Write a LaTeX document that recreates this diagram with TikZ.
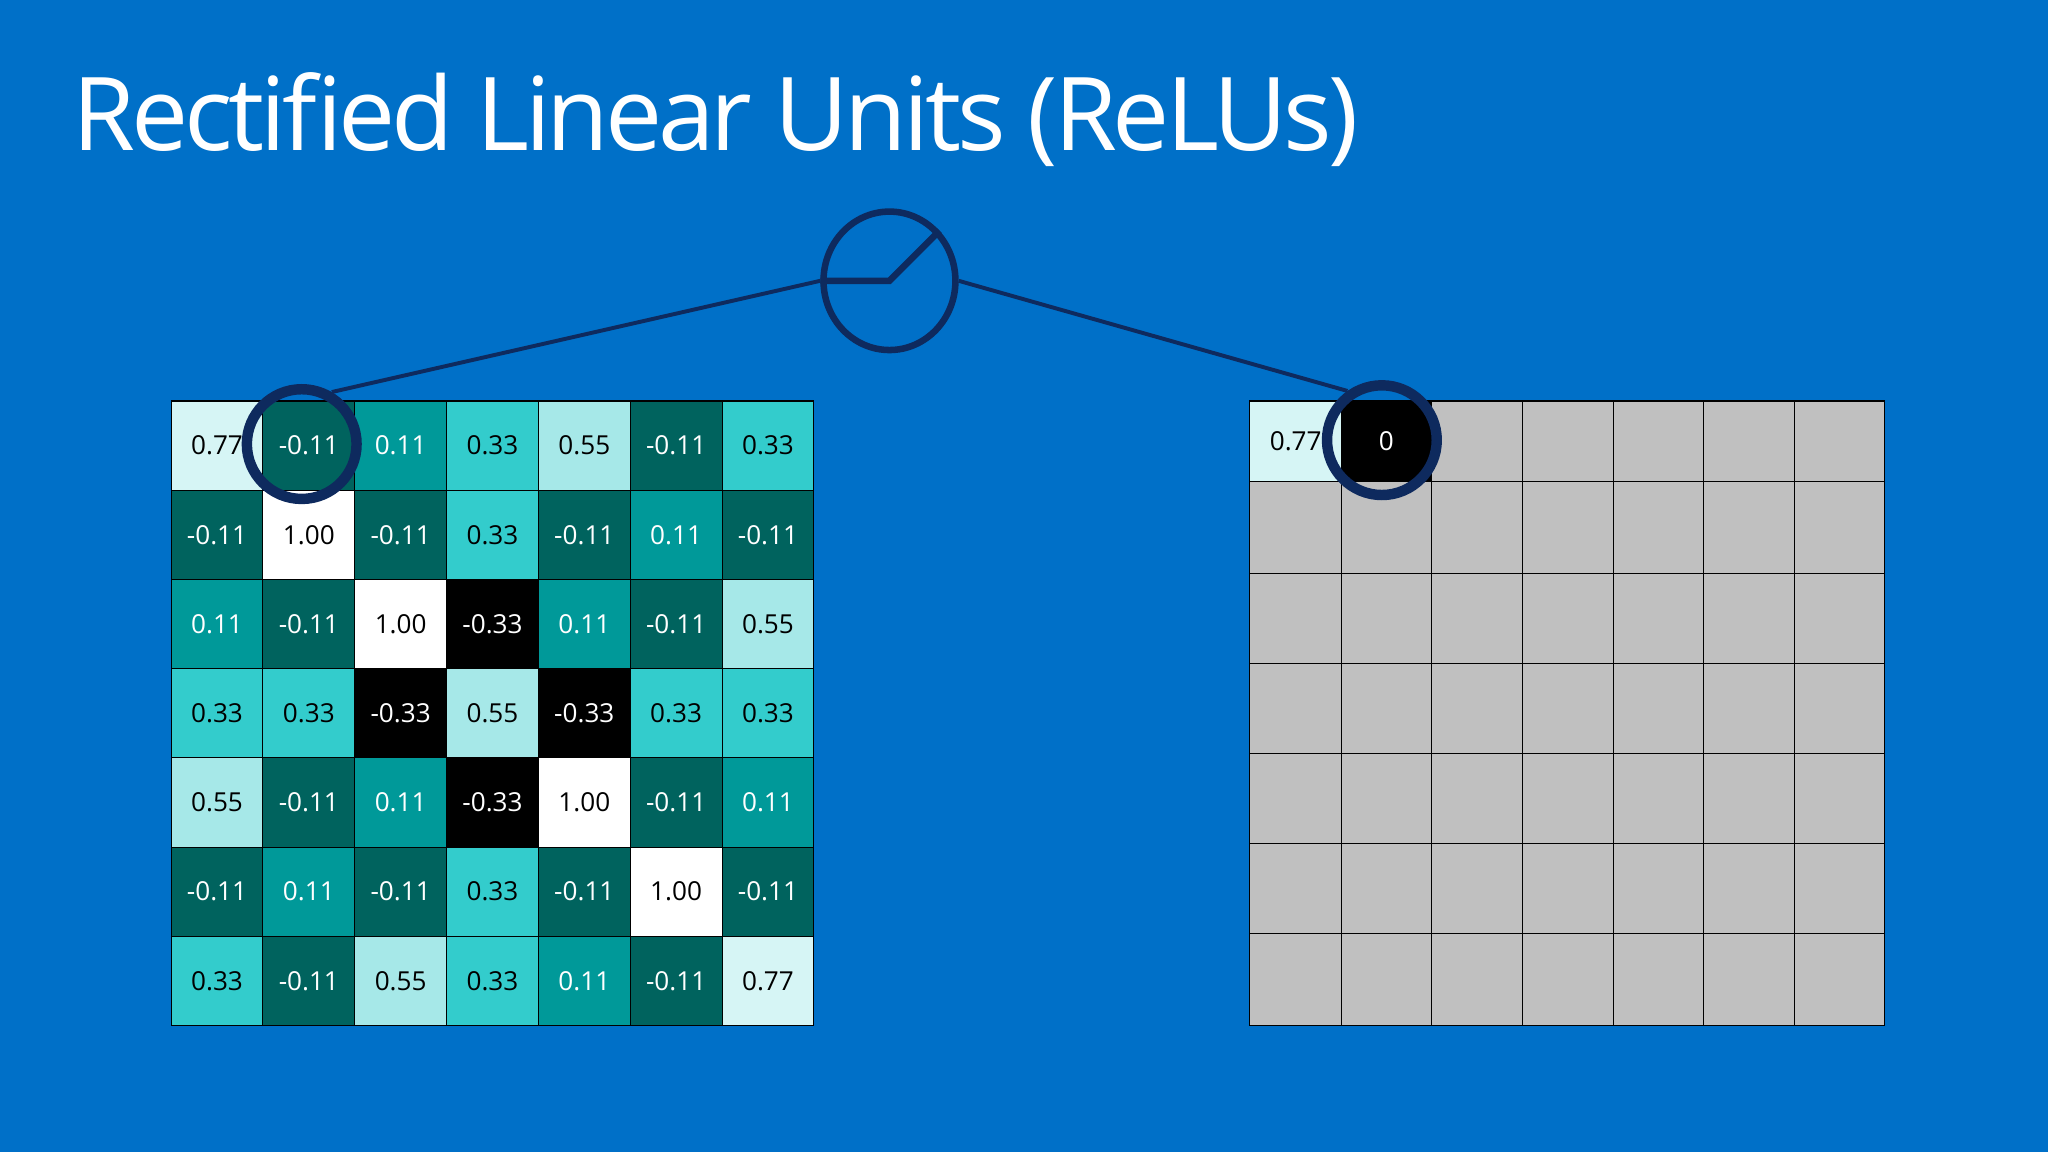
\documentclass[tikz,border=0pt]{standalone}
\usepackage{fontspec}
\usetikzlibrary{shapes.geometric}
\setmainfont{Open Sans}
\begin{document}
\definecolor{bg}{HTML}{0070C8}
\definecolor{navy}{HTML}{0E2A5E}
\definecolor{vneg}{HTML}{000000}
\definecolor{cneg}{HTML}{00635E}
\definecolor{cone}{HTML}{009999}
\definecolor{cthree}{HTML}{33CCCC}
\definecolor{cfive}{HTML}{A6E8E8}
\definecolor{cseven}{HTML}{D6F5F5}
\definecolor{gr}{HTML}{C0C0C0}
\begin{tikzpicture}[x=1pt,y=-1pt,
  cell/.style={draw=black,line width=0.8pt,minimum width=70.3pt,minimum height=68.3pt,inner sep=0pt,font=\fontsize{20}{24}\selectfont},
  rcell/.style={draw=black,line width=0.8pt,fill=gr,inner sep=0pt},
  ring/.style={draw=navy,line width=8pt},
  wire/.style={draw=navy,line width=3pt}]
\fill[bg] (0,0) rectangle (1568,882);
\node[anchor=base west,text=white,inner sep=0pt,font=\fontsize{78}{90}\selectfont\addfontfeature{LetterSpace=-4}] (title) at (55,115) {Rectified Linear Units (ReLUs)};
% left grid
\foreach \row [count=\r from 0] in {
 {0.77,-0.11,0.11,0.33,0.55,-0.11,0.33},
 {-0.11,1.00,-0.11,0.33,-0.11,0.11,-0.11},
 {0.11,-0.11,1.00,-0.33,0.11,-0.11,0.55},
 {0.33,0.33,-0.33,0.55,-0.33,0.33,0.33},
 {0.55,-0.11,0.11,-0.33,1.00,-0.11,0.11},
 {-0.11,0.11,-0.11,0.33,-0.11,1.00,-0.11},
 {0.33,-0.11,0.55,0.33,0.11,-0.11,0.77}}{
 \foreach \v [count=\c from 0] in \row {
  \def\fc{white}\def\tc{black}
  \ifdim\v pt=0.77pt \def\fc{cseven}\fi
  \ifdim\v pt=0.55pt \def\fc{cfive}\fi
  \ifdim\v pt=0.33pt \def\fc{cthree}\fi
  \ifdim\v pt=0.11pt \def\fc{cone}\def\tc{white}\fi
  \ifdim\v pt=-0.11pt \def\fc{cneg}\def\tc{white}\fi
  \ifdim\v pt=-0.33pt \def\fc{vneg}\def\tc{white}\fi
  \node[cell,fill=\fc,text=\tc] (L\r\c) at ({131+35.15+70.3*\c},{307+34.15+68.3*\r}) {\v};
 }}
% right grid
\foreach \x [count=\c from 0] in {957,1027,1096,1166,1235,1304,1374}{
 \foreach \y [count=\r from 0] in {307,369,439,508,577,646,715}{
  \pgfmathsetmacro\xn{{957,1027,1096,1166,1235,1304,1374,1443}[\c+1]}
  \pgfmathsetmacro\yn{{307,369,439,508,577,646,715,785}[\r+1]}
  \draw[rcell] (\x,\y) rectangle (\xn,\yn);
 }}
\node[draw=black,line width=0.8pt,fill=cseven,minimum width=70pt,minimum height=62pt,inner sep=0pt,font=\fontsize{20}{24}\selectfont] (R00) at (992,338) {0.77};
\node[draw=black,line width=0.8pt,fill=black,text=white,minimum width=69pt,minimum height=62pt,inner sep=0pt,font=\fontsize{20}{24}\selectfont] (R01) at (1061.5,338) {0};
% rings
\node[ring,circle,minimum size=84pt,inner sep=0pt] (ringL) at (231,340) {};
\node[ring,circle,minimum size=84pt,inner sep=0pt] (ringR) at (1058,337) {};
\node[draw=navy,line width=5pt,ellipse,minimum width=101pt,minimum height=106pt,inner sep=0pt] (relu) at (681,215) {};
\draw[draw=navy,line width=5pt,line join=miter] (relu.west) -- (relu.center) -- (relu.45);
\draw[wire] (ringL.60) -- (relu.west);
\draw[wire] (relu.east) -- (ringR.125);
\end{tikzpicture}
\end{document}
